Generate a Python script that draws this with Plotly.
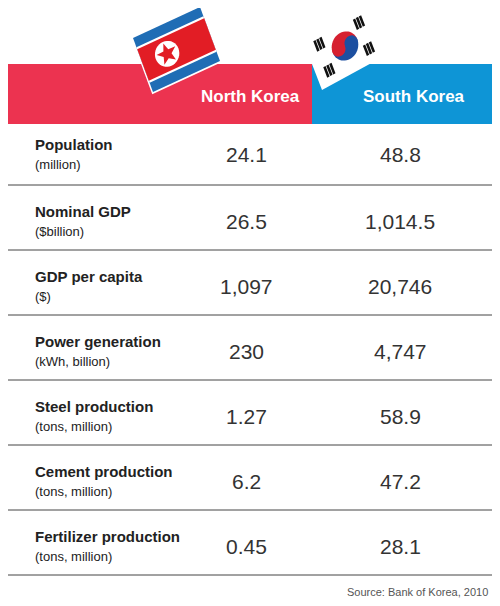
import plotly.graph_objects as go
import math

labels = ["Population", "Nominal GDP", "GDP per capita", "Power generation",
          "Steel production", "Cement production", "Fertilizer production"]
units = ["(million)", "($billion)", "($)", "(kWh, billion)",
         "(tons, million)", "(tons, million)", "(tons, million)"]
north = ["24.1", "26.5", "1,097", "230", "1.27", "6.2", "0.45"]
south = ["48.8", "1,014.5", "20,746", "4,747", "58.9", "47.2", "28.1"]
headers = ["North Korea", "South Korea"]
source = "Source: Bank of Korea, 2010"

fig = go.Figure()
shapes = []
ann = []
FONT = "Liberation Sans, Arial, sans-serif"

shapes.append(dict(type="rect", x0=8, x1=312, y0=64, y1=124, fillcolor="#ec3350", line_width=0, layer="below"))
shapes.append(dict(type="rect", x0=312, x1=492, y0=64, y1=124, fillcolor="#0e95d6", line_width=0, layer="below"))
ann.append(dict(x=250, y=96, text="<b>%s</b>" % headers[0], font=dict(color="white", size=17, family=FONT), showarrow=False))
ann.append(dict(x=414, y=96, text="<b>%s</b>" % headers[1], font=dict(color="white", size=17, family=FONT), showarrow=False))

row_top = 124
row_h = 65
for i in range(len(labels)):
    y0 = row_top + i * row_h
    yc = y0 + 32
    if i == 0:
        yc = y0 + 30
    ann.append(dict(x=33, y=yc - 10, text="<b>%s</b>" % labels[i], xanchor="left",
                    font=dict(color="#222", size=15, family=FONT), showarrow=False))
    ann.append(dict(x=33, y=yc + 10, text=units[i], xanchor="left",
                    font=dict(color="#222", size=13, family=FONT), showarrow=False))
    ann.append(dict(x=246, y=yc, text=north[i], font=dict(color="#333", size=21, family=FONT), showarrow=False))
    ann.append(dict(x=400, y=yc, text=south[i], font=dict(color="#333", size=21, family=FONT), showarrow=False))
    yl = 185 + i * row_h
    shapes.append(dict(type="line", x0=8, x1=492, y0=yl, y1=yl, line=dict(color="#444", width=1)))

ann.append(dict(x=490, y=592, text=source, xanchor="right", font=dict(color="#555", size=11, family=FONT), showarrow=False))

def mapper(o, w, h):
    def f(u, v):
        return (o[0] + w[0] * u + h[0] * v, o[1] + w[1] * u + h[1] * v)
    return f

def poly(f, pts, fill, line=None):
    p = "M " + " L ".join("%.2f,%.2f" % f(u, v) for u, v in pts) + " Z"
    d = dict(type="path", path=p, fillcolor=fill, line_width=0)
    if line:
        d["line"] = line
    return d

def quad(f, u0, u1, v0, v1, fill, line=None):
    return poly(f, [(u0, v0), (u1, v0), (u1, v1), (u0, v1)], fill, line)

def circle(f, cu, cv, r, aspect, fill, n=36):
    pts = [(cu + r * math.cos(2 * math.pi * k / n) / aspect, cv + r * math.sin(2 * math.pi * k / n)) for k in range(n)]
    return poly(f, pts, fill)

nk = mapper((133, 38), (67, -31), (20, 54))
shapes.append(quad(nk, -0.02, 1.02, -0.03, 1.03, "white"))
shapes.append(quad(nk, 0, 1, 0, 1, "#1f6db5"))
shapes.append(quad(nk, 0, 1, 0.17, 0.83, "white"))
shapes.append(quad(nk, 0, 1, 0.21, 0.79, "#e21d25"))
asp = 74 / 57
shapes.append(circle(nk, 0.36, 0.5, 0.22, asp, "white"))
star = []
for k in range(10):
    r = 0.19 if k % 2 == 0 else 0.08
    a = -math.pi / 2 + k * math.pi / 5
    star.append((0.36 + r * math.cos(a) / asp, 0.5 + r * math.sin(a)))
shapes.append(poly(nk, star, "#e21d25"))

sk = mapper((302, 38), (66, -36), (20, 52))
shapes.append(quad(sk, 0, 1, 0, 1, "white", dict(color="#333", width=1.5)))
asp2 = 75 / 56
n = 24
top = [(0.5 + 0.25 / asp2 * math.cos(math.pi + math.pi * k / n), 0.5 + 0.25 * math.sin(math.pi + math.pi * k / n)) for k in range(n + 1)]
shapes.append(poly(sk, top, "#d62030"))
bot = [(0.5 + 0.25 / asp2 * math.cos(math.pi * k / n), 0.5 + 0.25 * math.sin(math.pi * k / n)) for k in range(n + 1)]
shapes.append(poly(sk, bot, "#1c4fa0"))
shapes.append(circle(sk, 0.5 - 0.125 / asp2, 0.5, 0.125, asp2, "#d62030"))
shapes.append(circle(sk, 0.5 + 0.125 / asp2, 0.5, 0.125, asp2, "#1c4fa0"))
for cu, cv in [(0.2, 0.25), (0.8, 0.25), (0.2, 0.75), (0.8, 0.75)]:
    for j in range(3):
        off = (j - 1) * 0.045
        shapes.append(quad(sk, cu - 0.03 + off, cu - 0.01 + off + 0.015, cv - 0.1, cv + 0.1, "#111"))

# page body has an 8px margin: figure occupies pixels 8..492 x 8..598
fig.update_layout(
    width=484, height=590, margin=dict(l=0, r=0, t=0, b=0),
    paper_bgcolor="white", plot_bgcolor="white",
    xaxis=dict(range=[8, 492], visible=False, fixedrange=True),
    yaxis=dict(range=[598, 8], visible=False, fixedrange=True),
    shapes=shapes, annotations=ann, showlegend=False,
)
fig.write_html("out.html")
